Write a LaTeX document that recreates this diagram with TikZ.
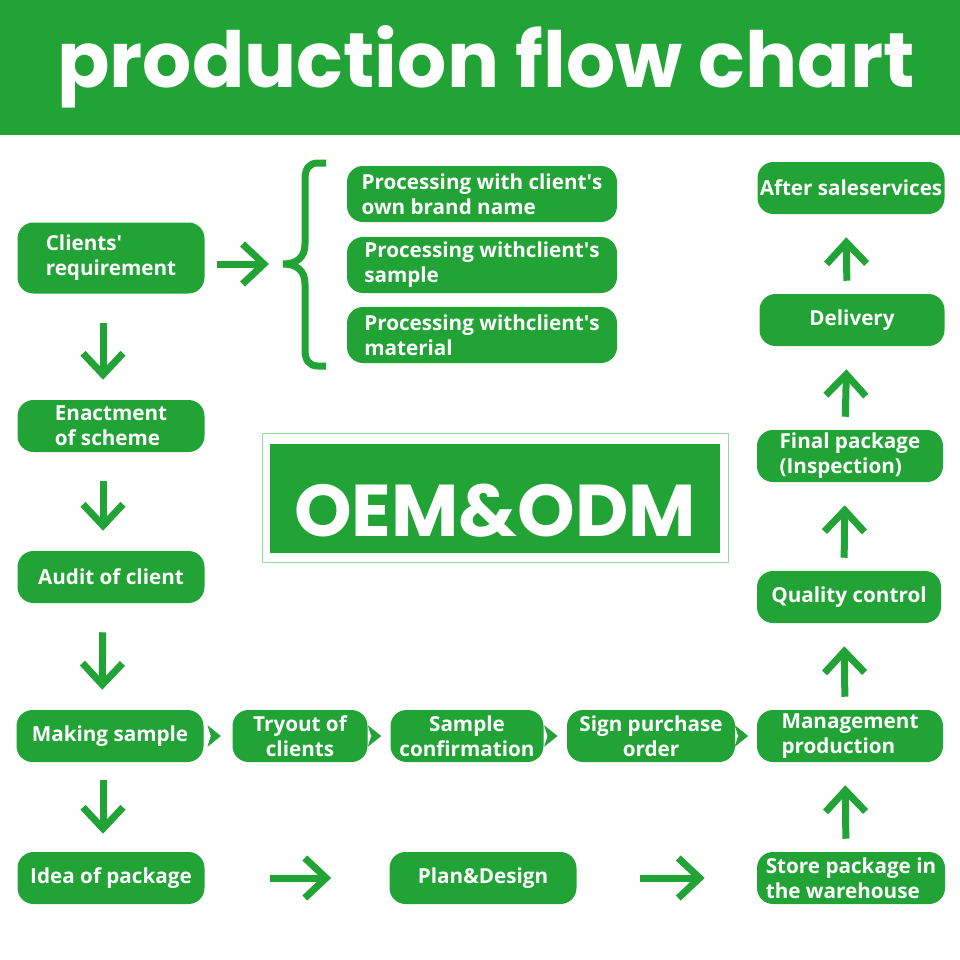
\documentclass[tikz,border=0pt]{standalone}
\usepackage{fontspec}
\setmainfont{Open Sans}
\newfontfamily\titlefont{Poppins}
\usetikzlibrary{arrows.meta,positioning,decorations.markings}
\definecolor{ogreen}{RGB}{33,163,54}
\definecolor{lgreen}{RGB}{150,220,160}
\newdimen\px \px=0.75pt

\tikzset{
  box/.style={fill=ogreen, text=white, rounded corners=16\px, minimum width=187\px,
    minimum height=52\px, inner sep=0pt, align=left,
    font=\bfseries\fontsize{15.5}{18.75}\selectfont},
  bigarrow/.style={draw=ogreen, line width=7\px, -{Straight Barb[length=16pt, width=30pt]}},
  smallarrow/.style={color=ogreen, postaction={decorate}, decoration={markings,
    mark=at position 0.6 with {\arrow{Stealth[length=10pt, width=16pt, inset=2.5pt]}}}}
}

\begin{document}
\begin{tikzpicture}[x=1\px, y=-1\px]
\useasboundingbox (0,0) rectangle (960,960);
% header
\fill[ogreen] (0,0) rectangle (960,135);
\node[text=white, font=\titlefont\bfseries\fontsize{58}{58}\selectfont] (title) at (486,67) {production flow chart};

% left column
\node[box, minimum height=71\px] (req) at (111,258) {Clients\textquotesingle\\requirement};
\node[box] (enact) at (111,426) {Enactment\\of scheme};
\node[box] (audit) at (111,577) {Audit of client};
\node[box] (make) at (110,736) {Making sample};
\node[box] (idea) at (111,878) {Idea of package};

% processing options
\node[box, minimum width=270\px, minimum height=56\px] (p1) at (482,194) {Processing with client\textquotesingle s\\own brand name};
\node[box, minimum width=270\px, minimum height=56\px] (p2) at (482,265) {Processing withclient\textquotesingle s\\sample};
\node[box, minimum width=270\px, minimum height=56\px] (p3) at (482,335) {Processing withclient\textquotesingle s\\material};
\coordinate (btop) at (326,163);
\coordinate (bbot) at (326,366);
\coordinate (btip) at (283,264);

% middle row
\node[box, minimum width=135\px, align=center] (try) at (300,736) {Tryout of\\clients};
\node[box, minimum width=153\px, align=center] (conf) at (467,736) {Sample\\confirmation};
\node[box, minimum width=168\px, align=center] (sign) at (651,736) {Sign purchase\\order};
\node[box, minimum width=186\px] (mgmt) at (850,736) {Management\\production};

% bottom row
\node[box] (plan) at (483,878) {Plan\&Design};
\node[box, minimum width=188\px] (store) at (851,878) {Store package in\\the warehouse};

% right column
\node[box] (after) at (851,188) {After saleservices};
\node[box, minimum width=185\px] (deliv) at (852,320) {Delivery};
\node[box, minimum width=186\px] (final) at (850,456) {Final package\\(Inspection)};
\node[box, minimum width=184\px] (qc) at (849,597) {Quality control};

% centre label
\node[draw=lgreen, line width=1\px, minimum width=466\px, minimum height=129\px] (frame) at (495,498) {};
\node[fill=ogreen, text=white, minimum width=450\px, minimum height=109\px, text height=57pt, text depth=0pt,
  font=\titlefont\bfseries\fontsize{55}{55}\selectfont] (oem) at (495,498) {OEM\&ODM};

% connectors
\draw[ogreen, line width=7\px] (bbot) -- (318,366) .. controls (309,366) and (305,360) .. (305,350)
  -- (305,284) .. controls (305,270) and (296,264) .. (btip) .. controls (296,264) and (305,258) .. (305,244)
  -- (305,179) .. controls (305,169) and (309,163) .. (318,163) -- (btop);
\draw[bigarrow, shorten <=12\px, shorten >=14\px] (req.east |- btip) -- (btip);
\foreach \a/\b in {req/enact, enact/audit, audit/make}
  \draw[bigarrow, shorten <=29\px, shorten >=20\px] ([xshift=-8\px]\a.south) -- ([xshift=-8\px]\b.north);
\draw[bigarrow, shorten <=18\px, shorten >=18\px] ([xshift=-7\px]make.south) -- ([xshift=-8\px]idea.north);
\draw[bigarrow, shorten <=65\px, shorten >=58\px] (idea) -- (plan);
\draw[bigarrow, shorten <=63\px, shorten >=52\px] (plan) -- (store);
\foreach \a/\b in {store/mgmt, mgmt/qc, qc/final, final/deliv, deliv/after}
  \draw[bigarrow, shorten <=13\px, shorten >=23\px] ([xshift=-5\px]\a.north) -- ([xshift=-5\px]\b.south);
\foreach \a/\b in {make/try, try/conf, conf/sign, sign/mgmt}
  \path[smallarrow] (\a) -- (\b);
\end{tikzpicture}
\end{document}
